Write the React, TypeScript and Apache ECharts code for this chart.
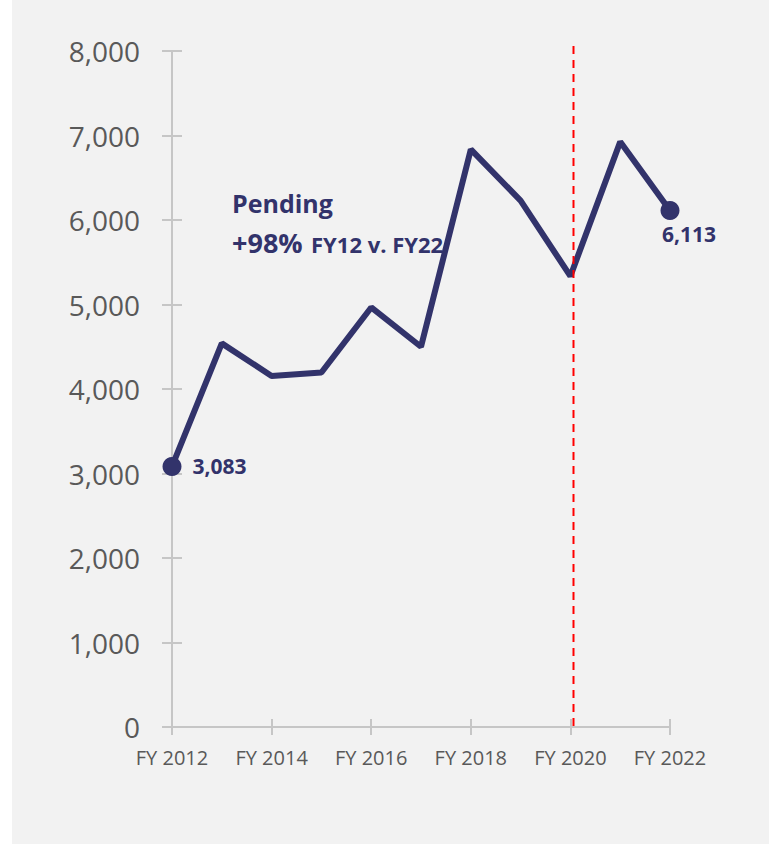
import React, { useEffect, useRef } from "react";
import * as echarts from "echarts";

const categories = [
  "FY 2012", "FY 2013", "FY 2014", "FY 2015", "FY 2016", "FY 2017",
  "FY 2018", "FY 2019", "FY 2020", "FY 2021", "FY 2022",
];
const pendingValues = [3083, 4540, 4155, 4195, 4965, 4500, 6835, 6230, 5335, 6925, 6113];
const yTicks = { min: 0, max: 8000, interval: 1000 };
const annotationTitle = "Pending";
const annotationPct = "+98%";
const annotationSub = "FY12 v. FY22";

const NAVY = "#32336b";
const GRAY_TEXT = "#595959";
const AXIS = "#c6c6c6";
const FONT = "Open Sans";

const fmt = (v: number) => v.toLocaleString("en-US");

export default function App() {
  const ref = useRef<HTMLDivElement>(null);
  useEffect(() => {
    if (!ref.current) return;
    const chart = echarts.init(ref.current, null, { renderer: "svg" });
    const last = pendingValues.length - 1;
    const data = pendingValues.map((v, i) => {
      if (i === 0) {
        return {
          value: v,
          symbol: "circle",
          symbolSize: 19,
          label: { show: true, position: "right", distance: 11 },
        };
      }
      if (i === last) {
        return {
          value: v,
          symbol: "circle",
          symbolSize: 19,
          label: { show: true, position: "bottom", distance: 4, offset: [19, 0] },
        };
      }
      return { value: v, symbol: "none" };
    });
    chart.setOption({
      animation: false,
      backgroundColor: "#f2f2f2",
      textStyle: { fontFamily: FONT },
      grid: { left: 160, right: 99, top: 51, bottom: 117, containLabel: false },
      xAxis: [
        {
          type: "category",
          data: categories,
          boundaryGap: false,
          axisLine: { show: true, lineStyle: { color: AXIS, width: 2 } },
          axisTick: { show: true, interval: 1, length: 8, lineStyle: { color: AXIS, width: 2 } },
          axisLabel: {
            interval: 1,
            margin: 20,
            color: GRAY_TEXT,
            fontSize: 20,
            fontFamily: FONT,
          },
          splitLine: { show: false },
        },
        {
          type: "category",
          data: categories,
          boundaryGap: false,
          position: "bottom",
          axisLine: { show: false },
          axisTick: { show: true, inside: true, interval: 1, length: 8, lineStyle: { color: AXIS, width: 2 } },
          axisLabel: { show: false },
          splitLine: { show: false },
        },
      ],
      yAxis: [
        {
          type: "value",
          min: yTicks.min,
          max: yTicks.max,
          interval: yTicks.interval,
          axisLine: { show: true, lineStyle: { color: AXIS, width: 2 } },
          axisTick: { show: true, length: 10, lineStyle: { color: AXIS, width: 2 } },
          axisLabel: {
            margin: 32,
            color: GRAY_TEXT,
            fontSize: 28,
            fontFamily: FONT,
            formatter: (v: number) => fmt(v),
          },
          splitLine: { show: false },
        },
        {
          type: "value",
          min: yTicks.min,
          max: yTicks.max,
          interval: yTicks.interval,
          position: "left",
          axisLine: { show: false },
          axisTick: { show: true, inside: true, length: 10, lineStyle: { color: AXIS, width: 2 } },
          axisLabel: { show: false },
          splitLine: { show: false },
        },
      ],
      series: [
        {
          type: "line",
          name: "Pending",
          xAxisIndex: 0,
          yAxisIndex: 0,
          data,
          z: 3,
          lineStyle: { color: NAVY, width: 6 },
          itemStyle: { color: NAVY },
          label: {
            color: NAVY,
            fontSize: 21,
            fontWeight: "bold",
            fontFamily: FONT,
            formatter: (p: any) => fmt(p.value),
          },
        },
      ],
      graphic: [
        {
          type: "text",
          z: 1,
          x: 220,
          y: 203,
          style: {
            text: annotationTitle,
            fill: NAVY,
            font: `bold 25px "${FONT}"`,
            verticalAlign: "middle",
          },
        },
        {
          type: "text",
          z: 1,
          x: 220,
          y: 242,
          style: {
            text: annotationPct,
            fill: NAVY,
            font: `bold 27px "${FONT}"`,
            verticalAlign: "middle",
          },
        },
        {
          type: "text",
          z: 1,
          x: 299,
          y: 243.5,
          style: {
            text: annotationSub,
            fill: NAVY,
            font: `bold 22px "${FONT}"`,
            verticalAlign: "middle",
          },
        },
        {
          type: "line",
          z: 10,
          shape: { x1: 561.5, y1: 46, x2: 561.5, y2: 727 },
          style: { stroke: "#ff0000", lineWidth: 2, lineDash: [8, 6] },
        },
      ],
    });
    return () => chart.dispose();
  }, []);
  return (
    <div style={{ position: "absolute", left: 0, top: 0, width: 769, height: 844, background: "#ffffff" }}>
      <div ref={ref} style={{ position: "absolute", left: 12, top: 0, width: 757, height: 844 }} />
    </div>
  );
}
